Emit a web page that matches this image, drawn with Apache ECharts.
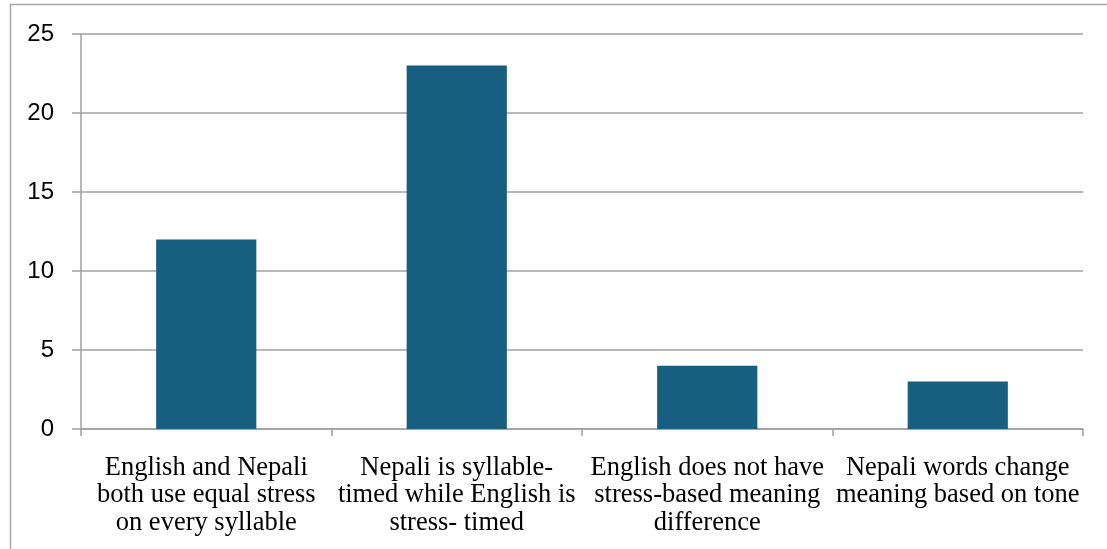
<!DOCTYPE html>
<html>
<head>
<meta charset="utf-8">
<script src="https://cdn.jsdelivr.net/npm/echarts@6/dist/echarts.min.js"></script>
<style>
  html, body { margin: 0; padding: 0; background: #fff; }
  #chart { width: 1107px; height: 549px; }
</style>
</head>
<body>
<div id="chart"></div>
<script>
// categories and counts
const categories = [
    'English and Nepali\nboth use equal stress\non every syllable',
    'Nepali is syllable-\ntimed while English is\nstress- timed',
    'English does not have\nstress-based meaning\ndifference',
    'Nepali words change\nmeaning based on tone'
];
const counts = [12, 23, 4, 3];
const yTicks = [0, 5, 10, 15, 20, 25];

const myChart = echarts.init(document.getElementById('chart'));

const option = {
    animation: false,
    graphic: [{
        type: 'rect',
        shape: { x: 10.5, y: 4.5, width: 1110, height: 560 },
        style: { fill: 'none', stroke: '#a6a6a6', lineWidth: 1.5 },
        silent: true
    }],
    grid: { left: 81, right: 24, top: 34, bottom: 120 },
    xAxis: {
        type: 'category',
        data: categories,
        axisLine: { lineStyle: { color: '#a0a0a0', width: 1.5 } },
        axisTick: { show: true, alignWithLabel: false, length: 7, lineStyle: { color: '#a0a0a0', width: 1.5 } },
        axisLabel: {
            interval: 0,
            margin: 25,
            fontFamily: 'Liberation Serif',
            fontSize: 26.5,
            lineHeight: 27.5,
            color: '#000'
        }
    },
    yAxis: {
        type: 'value',
        min: yTicks[0],
        max: yTicks[yTicks.length - 1],
        interval: 5,
        axisLine: { show: true, lineStyle: { color: '#a0a0a0', width: 1.5 } },
        axisTick: { show: true, length: 9, lineStyle: { color: '#a0a0a0', width: 1.5 } },
        splitLine: { lineStyle: { color: '#a0a0a0', width: 1.5 } },
        axisLabel: {
            margin: 27,
            fontFamily: 'Liberation Sans',
            fontSize: 24,
            color: '#000'
        }
    },
    series: [{
        type: 'bar',
        data: counts,
        barWidth: '40%',
        itemStyle: { color: '#175f80' }
    }]
};

myChart.setOption(option);
</script>
</body>
</html>
